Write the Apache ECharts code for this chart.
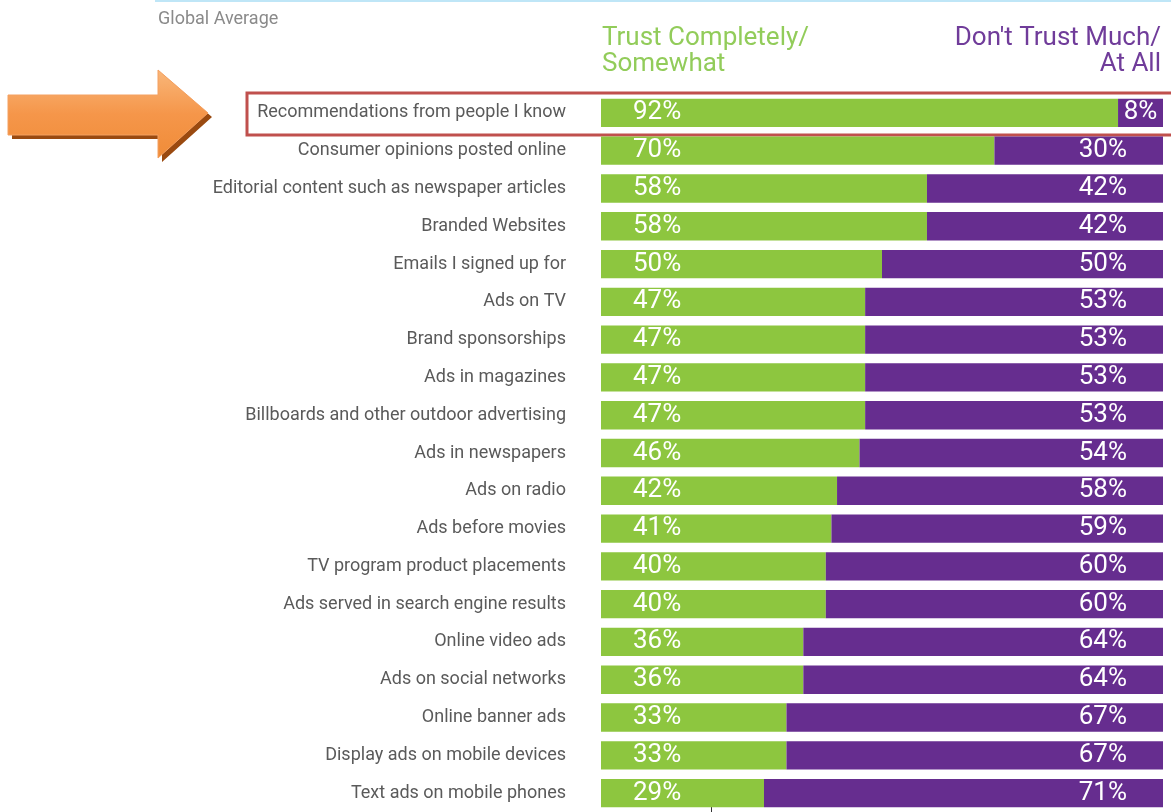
<!DOCTYPE html>
<html><head><meta charset="utf-8">
<script src="https://cdn.jsdelivr.net/npm/echarts@6/dist/echarts.min.js"></script>
<style>html,body{margin:0;padding:0;background:#fff}#c{width:1171px;height:812px}</style>
</head><body><div id="c"></div>
<script>
const categories = [
  "Recommendations from people I know",
  "Consumer opinions posted online",
  "Editorial content such as newspaper articles",
  "Branded Websites",
  "Emails I signed up for",
  "Ads on TV",
  "Brand sponsorships",
  "Ads in magazines",
  "Billboards and other outdoor advertising",
  "Ads in newspapers",
  "Ads on radio",
  "Ads before movies",
  "TV program product placements",
  "Ads served in search engine results",
  "Online video ads",
  "Ads on social networks",
  "Online banner ads",
  "Display ads on mobile devices",
  "Text ads on mobile phones"
];
const trust = [92,70,58,58,50,47,47,47,47,46,42,41,40,40,36,36,33,33,29];
const distrust = [8,30,42,42,50,53,53,53,53,54,58,59,60,60,64,64,67,67,71];
const seriesNames = ["Trust Completely/\nSomewhat", "Don't Trust Much/\nAt All"];

const FONT = "Roboto";
const distrustData = distrust.map(v => v < 15 ? {value:v, label:{position:'inside'}} : v);
const chart = echarts.init(document.getElementById('c'), null, {renderer:'canvas'});
chart.setOption({
  backgroundColor:'#fff',
  animation:false,
  grid:{left:601, right:8, top:94, bottom:-3, containLabel:false},
  xAxis:{type:'value', min:0, max:100, show:false},
  yAxis:{type:'category', data:categories, inverse:true,
    axisLine:{show:false}, axisTick:{show:false}, splitLine:{show:false},
    axisLabel:{margin:35, color:'#5a5a5a', fontFamily:FONT, fontSize:18, letterSpacing:-0.7}},
  series:[
    {name:seriesNames[0], type:'bar', stack:'s', data:trust, barCategoryGap:'25%',
      itemStyle:{color:'#8dc63f'},
      label:{show:true, position:'insideLeft', distance:32, color:'#fff', fontFamily:FONT, fontSize:26, formatter:'{c}%'}},
    {name:seriesNames[1], type:'bar', stack:'s', data:distrustData,
      itemStyle:{color:'#662d8f'},
      label:{show:true, position:'insideRight', distance:36, color:'#fff', fontFamily:FONT, fontSize:26, formatter:'{c}%'}}
  ],
  graphic:[
    {type:'rect', shape:{x:155, y:0, width:1016, height:2}, style:{fill:'#bfe6f7'}},
    {type:'text', x:158, y:10, style:{text:'Global Average', fill:'#8a8a8a', font:'18px "'+FONT+'"', letterSpacing:-0.6}},
    {type:'text', x:602, y:25, style:{text:seriesNames[0], fill:'#92cc5a', font:'26px "'+FONT+'"', lineHeight:26}},
    {type:'text', x:1161, y:25, style:{text:seriesNames[1], fill:'#703c9a', font:'26px "'+FONT+'"', lineHeight:26, align:'right'}},
    {type:'rect', shape:{x:247, y:93, width:930, height:42}, style:{fill:'none', stroke:'#c0504d', lineWidth:3}},
    {type:'polygon', shape:{points:[[12,99],[162,99],[162,74],[212,117],[162,162],[162,139],[12,139]]}, style:{fill:'#9a4a10'}},
    {type:'polygon', shape:{points:[[8,95],[158,95],[158,70],[208,113],[158,158],[158,135],[8,135]]},
      style:{fill:new echarts.graphic.LinearGradient(0,0,0,1,[{offset:0,color:'#f9b77a'},{offset:0.5,color:'#f5964a'},{offset:1,color:'#f08c38'}]), stroke:'#f4a060', lineWidth:1}},
    {type:'rect', shape:{x:711, y:800, width:1, height:12}, style:{fill:'#333'}}
  ]
});
</script></body></html>
